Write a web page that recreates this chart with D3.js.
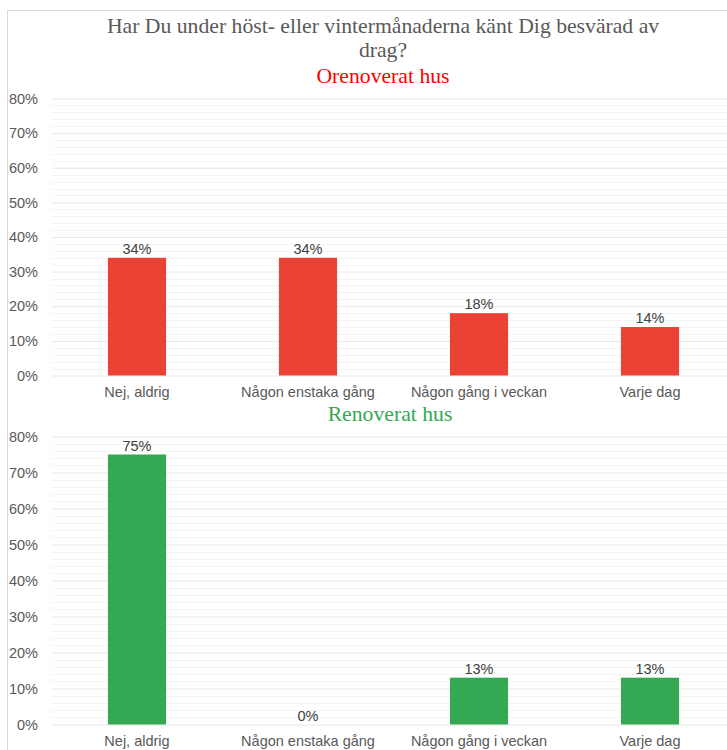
<!DOCTYPE html>
<html>
<head>
<meta charset="utf-8">
<script src="https://cdn.jsdelivr.net/npm/d3@7"></script>
<style>
  html, body { margin: 0; padding: 0; background: #fff; overflow: hidden; }
  svg { display: block; }
</style>
</head>
<body>
<svg id="chart" width="727" height="750"></svg>
<script>
// Survey answers: drafts felt during autumn/winter months
const categories = ["Nej, aldrig", "Någon enstaka gång", "Någon gång i veckan", "Varje dag"];
const orenoveratValues = [34, 34, 18, 14];
const renoveratValues = [75, 0, 13, 13];
const yTicks = [0, 10, 20, 30, 40, 50, 60, 70, 80];
const titleLines = ["Har Du under höst- eller vintermånaderna känt Dig besvärad av", "drag?"];
const panelTitles = ["Orenoverat hus", "Renoverat hus"];

const svg = d3.select("#chart");
const W = 727;

// outer frame
svg.append("path")
  .attr("d", "M7.5,750 V10.5 H727")
  .attr("fill", "none")
  .attr("stroke", "#d9d9d9")
  .attr("stroke-width", 1);

// main title
svg.append("text")
  .attr("x", 383).attr("y", 33)
  .attr("text-anchor", "middle")
  .attr("font-family", "'Liberation Serif', 'Times New Roman', serif")
  .attr("font-size", 21.7)
  .attr("fill", "#595959")
  .selectAll("tspan").data(titleLines).join("tspan")
  .attr("x", 383)
  .attr("dy", (d, i) => i === 0 ? 0 : 24)
  .text(d => d);

const x = d3.scaleBand()
  .domain(categories)
  .range([51.5, 735.5])
  .paddingInner(0.66)
  .paddingOuter(0.33);

function panel(values, color, titleText, titleColor, titleX, titleY, y0, y80) {
  const y = d3.scaleLinear().domain([0, 80]).range([y0, y80]);
  const g = svg.append("g");

  // minor gridlines every 2%
  const minor = d3.range(0, 81, 2).filter(v => v % 10 !== 0);
  g.selectAll(".minor").data(minor).join("line")
    .attr("x1", 52).attr("x2", W)
    .attr("y1", d => Math.round(y(d)) + 0.5).attr("y2", d => Math.round(y(d)) + 0.5)
    .attr("stroke", "#f4f4f4");

  // major gridlines via axis
  const axis = d3.axisLeft(y).tickValues(yTicks)
    .tickFormat(d => d + "%")
    .tickSize(-(W - 52)).tickPadding(14);
  const ag = g.append("g").attr("transform", "translate(52,0)").call(axis);
  ag.select(".domain").remove();
  ag.selectAll(".tick line").attr("stroke", "#e8e8e8");
  ag.selectAll(".tick text")
    .attr("font-family", "'Liberation Sans', Arial, sans-serif")
    .attr("font-size", 14.5)
    .attr("fill", "#595959");

  // bars
  g.selectAll(".bar").data(values).join("rect")
    .attr("x", (d, i) => x(categories[i]))
    .attr("width", x.bandwidth())
    .attr("y", d => y(d))
    .attr("height", d => y(0) - y(d))
    .attr("fill", color);

  // value labels
  g.selectAll(".val").data(values).join("text")
    .attr("x", (d, i) => x(categories[i]) + x.bandwidth() / 2)
    .attr("y", d => y(d) - 4)
    .attr("text-anchor", "middle")
    .attr("font-family", "'Liberation Sans', Arial, sans-serif")
    .attr("font-size", 14.5)
    .attr("fill", "#404040")
    .text(d => d + "%");

  // category labels
  const xa = d3.axisBottom(x).tickSize(0).tickPadding(11);
  const xg = g.append("g").attr("transform", `translate(0,${y0})`).call(xa);
  xg.select(".domain").remove();
  xg.selectAll(".tick text")
    .attr("font-family", "'Liberation Sans', Arial, sans-serif")
    .attr("font-size", 14.5)
    .attr("fill", "#595959");

  // panel title
  svg.append("text")
    .attr("x", titleX).attr("y", titleY)
    .attr("text-anchor", "middle")
    .attr("font-family", "'Liberation Serif', 'Times New Roman', serif")
    .attr("font-size", 21.7)
    .attr("fill", titleColor)
    .text(titleText);
}

panel(orenoveratValues, "#ea4335", panelTitles[0], "#ff0000", 383, 83, 375.5, 98.5);
panel(renoveratValues, "#34a853", panelTitles[1], "#34a853", 390, 421, 724.5, 436.5);
</script>
</body>
</html>
